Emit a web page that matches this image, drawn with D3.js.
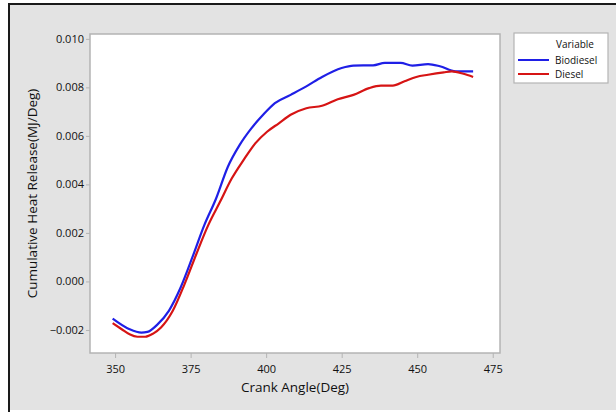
<!DOCTYPE html>
<html>
<head>
<meta charset="utf-8">
<script src="https://cdn.jsdelivr.net/npm/d3@7"></script>
<style>
  body { margin: 0; background: #fff; }
  svg text { font-family: "Open Sans", "Noto Sans", sans-serif; fill: #111; }
</style>
</head>
<body>
<div class="chart"></div>
<script>
var svgWidth = 616;
var svgHeight = 412;

// plot area in page pixels
var margin = { top: 34, right: 116, bottom: 59, left: 90 };
var width = svgWidth - margin.left - margin.right;
var height = svgHeight - margin.top - margin.bottom;

// data
var bioAngle = [349.2, 354.8, 358.7, 360.7, 363.9, 367.8, 371.7, 375.6, 379.5, 383.4, 387.3, 391.2, 395.1, 399.0, 402.9, 408.1, 413.3, 418.5, 425.0, 428.9, 435.4, 439.3, 444.5, 448.4, 453.6, 457.5, 462.7, 468.5];
var bioHeat = [-0.00153, -0.00197, -0.00211, -0.00208, -0.00179, -0.00121, -0.00025, 0.00100, 0.00231, 0.00341, 0.00472, 0.00562, 0.00631, 0.00687, 0.00735, 0.00769, 0.00804, 0.00843, 0.00880, 0.00890, 0.00891, 0.00901, 0.00901, 0.00890, 0.00896, 0.00887, 0.00866, 0.00866];

var dieselAngle = [349.2, 352.2, 354.8, 357.4, 360.0, 362.6, 365.2, 369.1, 373.0, 376.9, 380.8, 384.7, 388.6, 392.5, 396.4, 400.3, 404.2, 408.1, 413.3, 418.5, 423.7, 428.9, 434.1, 438.0, 441.9, 445.8, 449.7, 453.6, 458.8, 461.4, 465.3, 468.5];
var dieselHeat = [-0.00172, -0.00197, -0.00218, -0.00228, -0.00228, -0.00215, -0.00190, -0.00121, -0.00011, 0.00113, 0.00231, 0.00327, 0.00424, 0.00500, 0.00569, 0.00617, 0.00652, 0.00687, 0.00714, 0.00724, 0.00751, 0.00769, 0.00797, 0.00807, 0.00807, 0.00825, 0.00843, 0.00852, 0.00862, 0.00866, 0.00856, 0.00843];

var xTicks = [350, 375, 400, 425, 450, 475];
var yTicks = [-0.002, 0.000, 0.002, 0.004, 0.006, 0.008, 0.010];

var seriesNames = ["Biodiesel", "Diesel"];
var seriesColors = ["#1f1fe6", "#d61414"];

var svg = d3.select(".chart")
    .append("svg")
    .attr("width", svgWidth)
    .attr("height", svgHeight);

// grey background with dark frame on top / left
svg.append("rect")
    .attr("x", 8).attr("y", 3)
    .attr("width", svgWidth - 8).attr("height", 407)
    .attr("fill", "#e3e3e3");
svg.append("path")
    .attr("d", "M9,412 V4 H616")
    .attr("fill", "none")
    .attr("stroke", "#1a1a1a")
    .attr("stroke-width", 2);

var chartGroup = svg.append("g")
    .attr("transform", `translate(${margin.left}, ${margin.top})`);

var x = d3.scaleLinear().domain([341.7, 477.4]).range([0, width]);
var y = d3.scaleLinear().domain([-0.00295, 0.0102]).range([height, 0]);

chartGroup.append("rect")
    .attr("width", width).attr("height", height)
    .attr("fill", "#fff")
    .attr("stroke", "#b4b4b4")
    .attr("stroke-width", 1.5);

// axes
var bottomAxis = d3.axisBottom(x).tickValues(xTicks).tickSize(5).tickSizeOuter(0);
var leftAxis = d3.axisLeft(y).tickValues(yTicks).tickSize(4).tickSizeOuter(0)
    .tickFormat(d3.format(".3f"));

var xAxis = chartGroup.append("g")
    .attr("transform", `translate(0,${height})`)
    .call(bottomAxis);
var yAxis = chartGroup.append("g").call(leftAxis);

[xAxis, yAxis].forEach(function(a) {
    a.select(".domain").remove();
    a.selectAll(".tick line").attr("stroke", "#b4b4b4");
    a.selectAll(".tick text").attr("font-size", "11px").attr("fill", "#111");
});
xAxis.selectAll(".tick text").attr("dy", "1.1em");
yAxis.selectAll(".tick text").attr("x", -6);

// axis titles
chartGroup.append("text")
    .attr("x", 205)
    .attr("y", height + 39)
    .attr("text-anchor", "middle")
    .attr("font-size", "13.5px")
    .text("Crank Angle(Deg)");

chartGroup.append("text")
    .attr("transform", "rotate(-90)")
    .attr("x", -(height / 2))
    .attr("y", -53)
    .attr("text-anchor", "middle")
    .attr("font-size", "13.5px")
    .text("Cumulative Heat Release(MJ/Deg)");

// lines
var line = d3.line()
    .x(d => x(d[0]))
    .y(d => y(d[1]))
    .curve(d3.curveMonotoneX);

var bioData = bioAngle.map((a, i) => [a, bioHeat[i]]);
var dieselData = dieselAngle.map((a, i) => [a, dieselHeat[i]]);

[bioData, dieselData].forEach(function(data, i) {
    chartGroup.append("path")
        .datum(data)
        .attr("fill", "none")
        .attr("stroke", seriesColors[i])
        .attr("stroke-width", 2.2)
        .attr("d", line);
});

// legend
var legend = svg.append("g").attr("transform", "translate(514,33)");
legend.append("rect")
    .attr("width", 94).attr("height", 50)
    .attr("fill", "#fff")
    .attr("stroke", "#b4b4b4")
    .attr("stroke-width", 1.2);
legend.append("text")
    .attr("x", 61).attr("y", 15)
    .attr("text-anchor", "middle")
    .attr("font-size", "10px")
    .text("Variable");
seriesNames.forEach(function(name, i) {
    legend.append("line")
        .attr("x1", 4).attr("x2", 35)
        .attr("y1", 27 + i * 14).attr("y2", 27 + i * 14)
        .attr("stroke", seriesColors[i])
        .attr("stroke-width", 2);
    legend.append("text")
        .attr("x", 41).attr("y", 30.5 + i * 14)
        .attr("font-size", "10px")
        .text(name);
});
</script>
</body>
</html>
